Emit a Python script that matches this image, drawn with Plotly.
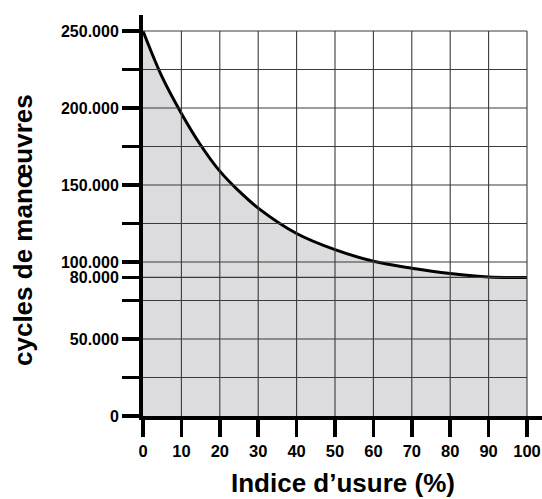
import plotly.graph_objects as go

# Data (in axis units)
usure_pct = [0, 5, 10, 15, 20, 25, 30, 40, 50, 60, 70, 80, 90, 100]
cycles = [250000, 220000, 196500, 176000, 159000, 146000, 135000, 118500,
          108000, 100500, 96000, 92500, 90200, 90000]

x_ticks = [0, 10, 20, 30, 40, 50, 60, 70, 80, 90, 100]
x_ticktext = [str(v) for v in x_ticks]

y_ticks = [0, 25000, 50000, 75000, 90000, 100000, 125000, 150000, 175000,
           200000, 225000, 250000]
y_ticktext = ["0", "", "50.000", "", "80.000", "100.000", "", "150.000", "",
              "200.000", "", "250.000"]

FONT = "Liberation Sans, Arial, Helvetica, sans-serif"

fig = go.Figure()
fig.add_trace(go.Scatter(
    x=usure_pct, y=cycles, mode="lines",
    line=dict(color="black", width=3, shape="spline", smoothing=1.0),
    fill="tozeroy", fillcolor="#dcdcdf", hoverinfo="skip", showlegend=False,
))

shapes = []
for xv in x_ticks[1:]:
    shapes.append(dict(type="line", xref="x", yref="y", x0=xv, x1=xv,
                       y0=0, y1=max(y_ticks), layer="above",
                       line=dict(color="#3a3a3a", width=1.1)))
for yv in y_ticks[1:]:
    shapes.append(dict(type="line", xref="x", yref="y", x0=0, x1=max(x_ticks),
                       y0=yv, y1=yv, layer="above",
                       line=dict(color="#3a3a3a", width=1.1)))

W, H = 542, 499
ml, mr, mt, mb = 143, 0, 15, 83
px_per_x = 3.84
px_per_y = 385.0 / 250000
x_max = (W - ml - mr) / px_per_x
y_max = (H - mt - mb) / px_per_y

fig.update_layout(
    width=W, height=H,
    margin=dict(l=ml, r=mr, t=mt, b=mb, autoexpand=False),
    paper_bgcolor="white", plot_bgcolor="white",
    shapes=shapes,
    font=dict(family=FONT, color="black"),
    xaxis=dict(
        range=[0, x_max], tickmode="array", tickvals=x_ticks, ticktext=x_ticktext,
        showgrid=False, zeroline=False, showline=True, linecolor="black", linewidth=4,
        ticks="outside", ticklen=17, tickwidth=3.5, tickcolor="black",
        tickfont=dict(family=FONT, size=16.5, color="black", weight="bold"),
        fixedrange=True, automargin=False,
    ),
    yaxis=dict(
        range=[0, y_max], tickmode="array", tickvals=y_ticks, ticktext=y_ticktext,
        showgrid=False, zeroline=False, showline=True, linecolor="black", linewidth=4,
        ticks="outside", ticklen=17, tickwidth=3.5, tickcolor="black",
        tickfont=dict(family=FONT, size=16, color="black", weight="bold"),
        fixedrange=True, automargin=False,
    ),
    annotations=[
        dict(text="Indice d’usure (%)", xref="paper", yref="paper",
             x=0.5, y=-(483 - 416) / (H - mt - mb), xanchor="center", yanchor="middle",
             showarrow=False,
             font=dict(family=FONT, size=26, color="black", weight="bold")),
        dict(text="cycles de manœuvres", xref="paper", yref="paper",
             x=-(ml - 23) / (W - ml - mr), y=(416 - 230) / (H - mt - mb),
             xanchor="center", yanchor="middle", textangle=-90, showarrow=False,
             font=dict(family=FONT, size=26, color="black", weight="bold")),
    ],
)

fig.write_html("out.html",
               config={"displayModeBar": False, "staticPlot": True},
               post_script="document.body.style.margin='0px';document.body.style.overflow='hidden';")
